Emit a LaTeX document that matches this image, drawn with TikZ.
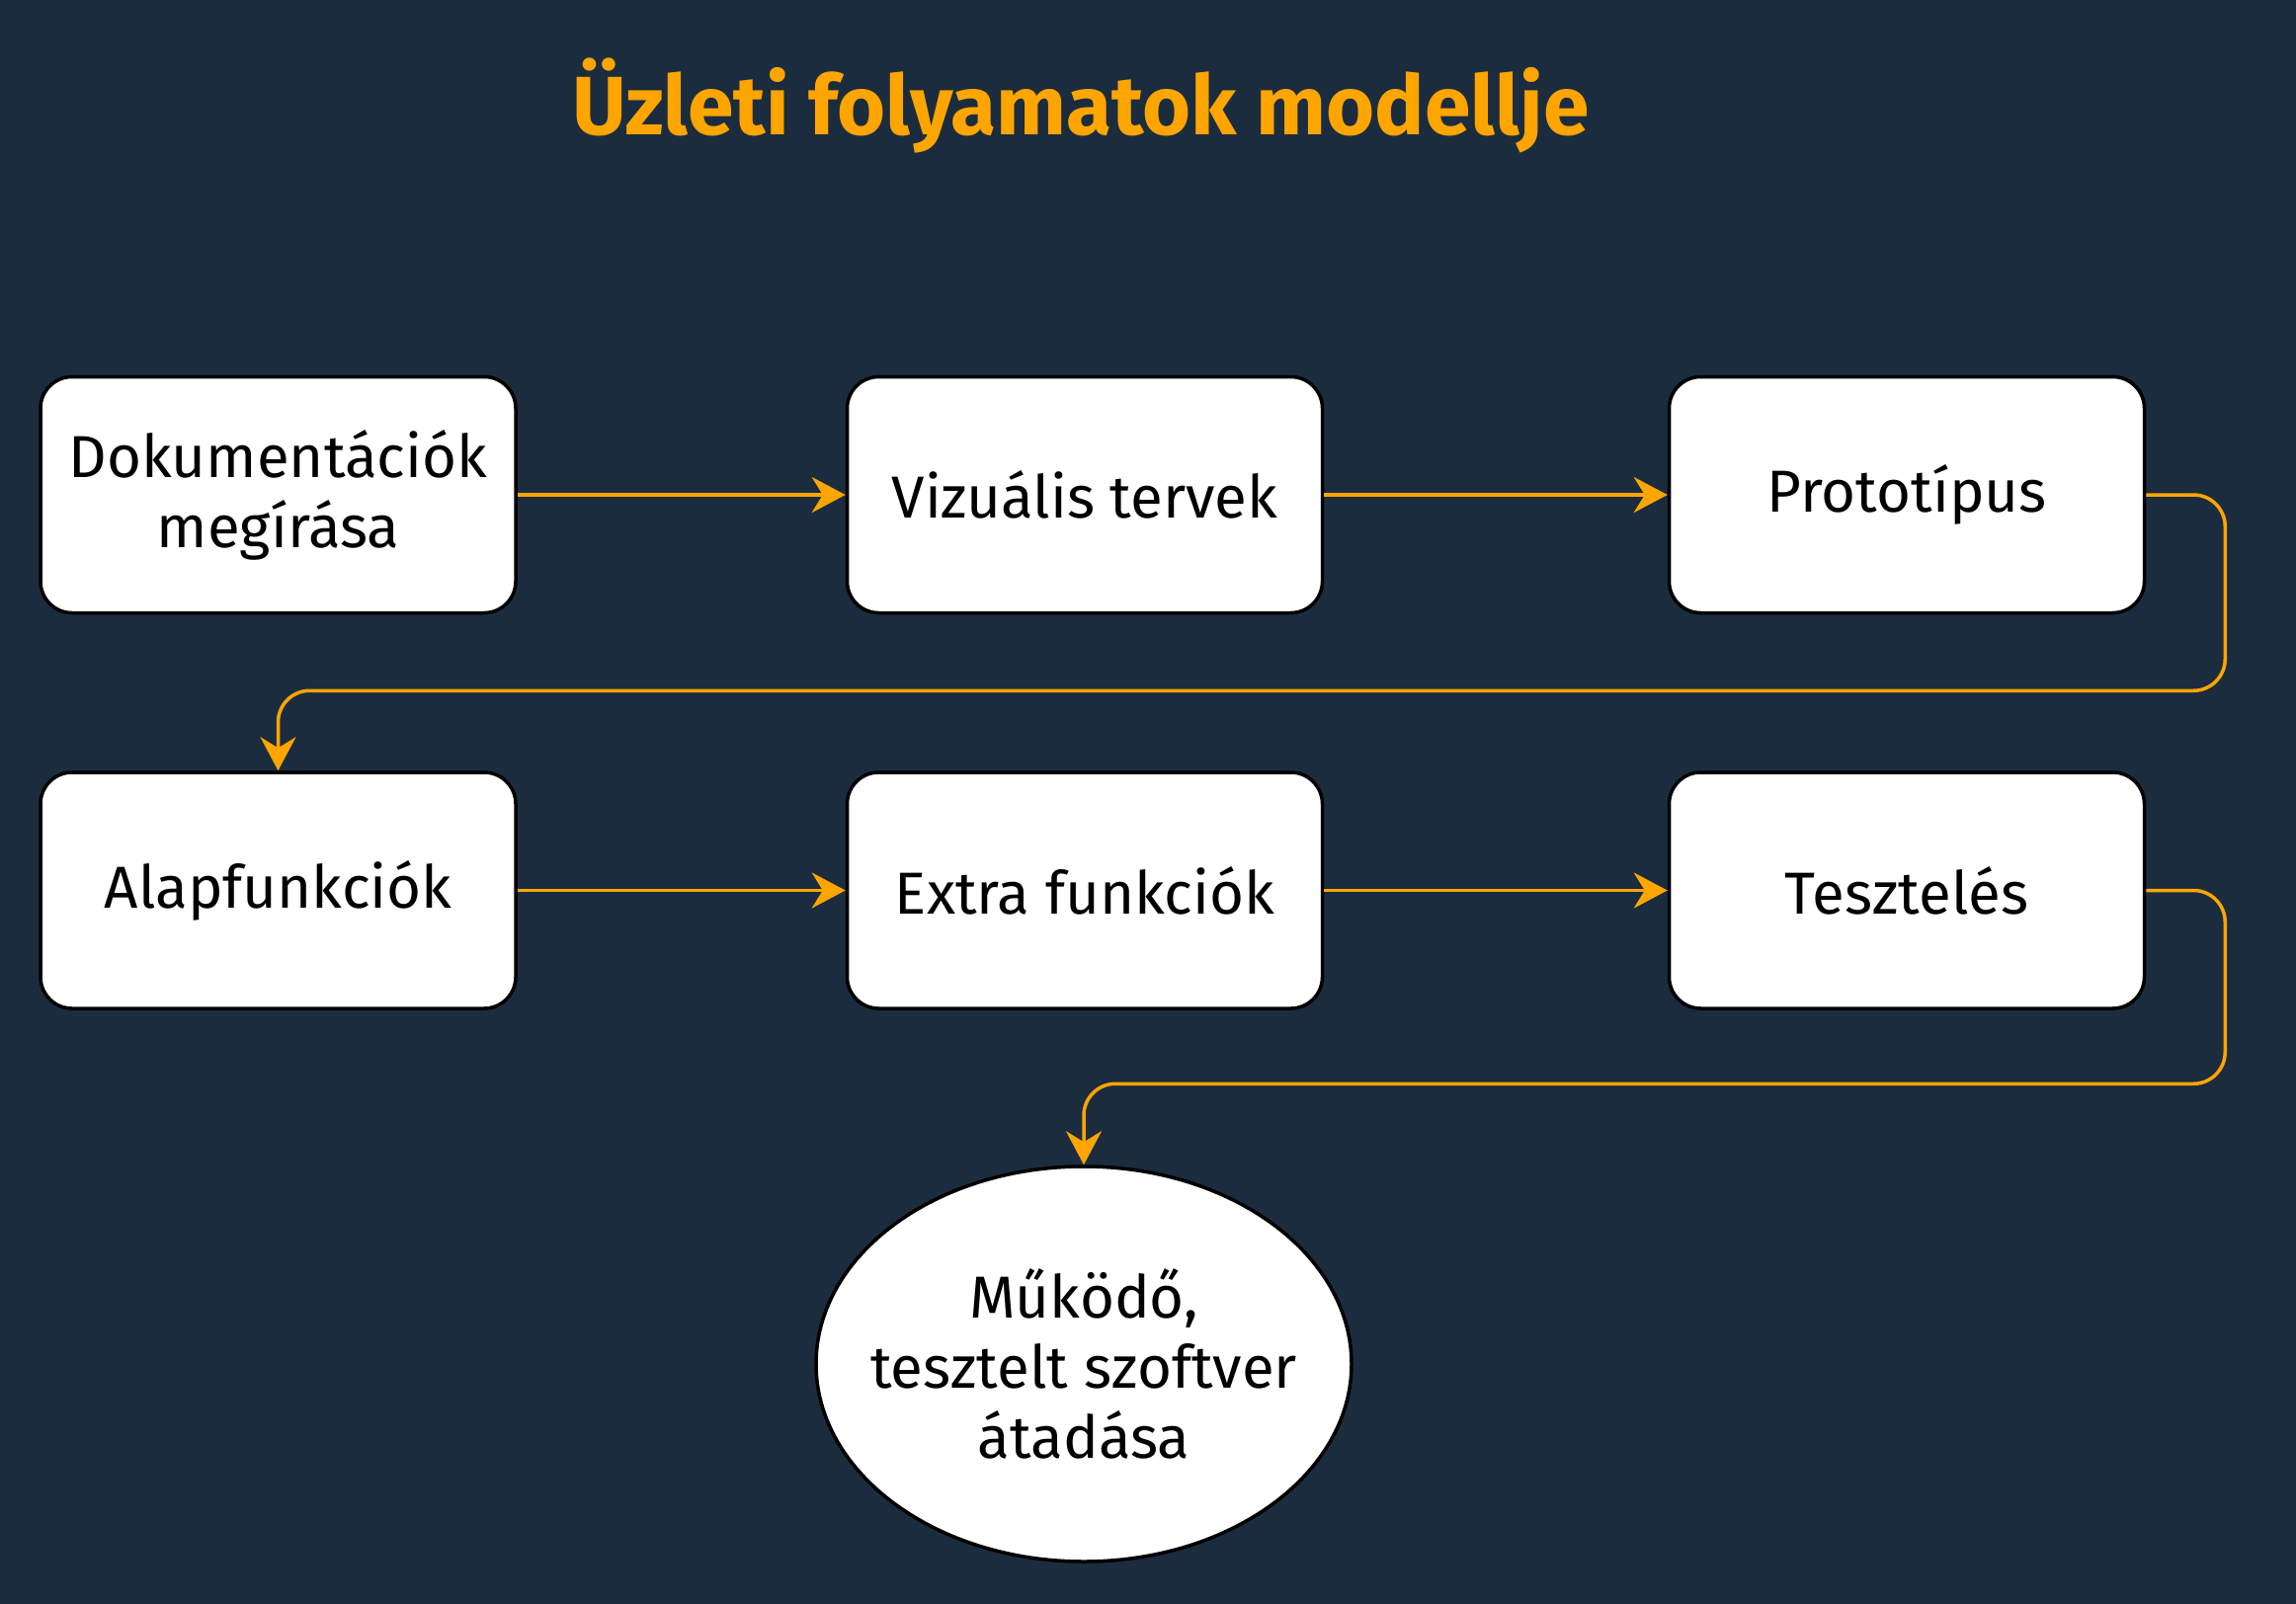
\documentclass[tikz,border=0pt]{standalone}
\usepackage{fontspec}
\setmainfont{Fira Sans}
\usepackage{tikz}
\usetikzlibrary{arrows.meta,shapes.geometric}
\definecolor{corfundo}{RGB}{27,44,62}
\definecolor{corlaranja}{RGB}{255,165,0}

\begin{document}
\begin{tikzpicture}[x=1pt,y=-1pt,
  lepes/.style={draw=black, line width=3.5pt, fill=white, rounded corners=32pt,
    minimum width=481pt, minimum height=239pt, align=center, inner sep=0pt,
    font=\fontsize{60}{71}\selectfont},
  nyil/.style={draw=corlaranja, line width=3.5pt, rounded corners=32pt,
    -{Stealth[length=34pt,width=36pt,inset=11pt]}}]
  \fill[corfundo] (0,0) rectangle (2324,1624);
  \useasboundingbox (0,0) rectangle (2324,1624);

  \node [text=corlaranja, font=\fontsize{84}{100}\selectfont\bfseries] (cim) at (1094,107) {Üzleti folyamatok modellje};

  \node [lepes] (dok) at (281.5,501) {Dokumentációk\\megírása};
  \node [lepes] (viz) at (1098,501) {Vizuális tervek};
  \node [lepes] (proto) at (1930,501) {Prototípus};
  \node [lepes] (alap) at (281.5,901.5) {Alapfunkciók};
  \node [lepes] (extra) at (1098,901.5) {Extra funkciók};
  \node [lepes] (teszt) at (1930,901.5) {Tesztelés};
  \node [draw=black, line width=3.5pt, fill=white, ellipse, minimum width=542pt,
    minimum height=400pt, inner sep=0pt,
    label={[align=center, font=\fontsize{60}{71}\selectfont]center:Működő,\\tesztelt szoftver\\átadása}] (vege) at (1097,1381) {};

  \draw [nyil] (dok) -- (viz);
  \draw [nyil] (viz) -- (proto);
  \draw [nyil] (proto.east) -- ++(80,0) |- ([yshift=81pt]alap.north) -- (alap.north);
  \draw [nyil] (alap) -- (extra);
  \draw [nyil] (extra) -- (teszt);
  \draw [nyil] (teszt.east) -- ++(80,0) |- ([yshift=82pt]vege.north) -- (vege.north);
\end{tikzpicture}
\end{document}
